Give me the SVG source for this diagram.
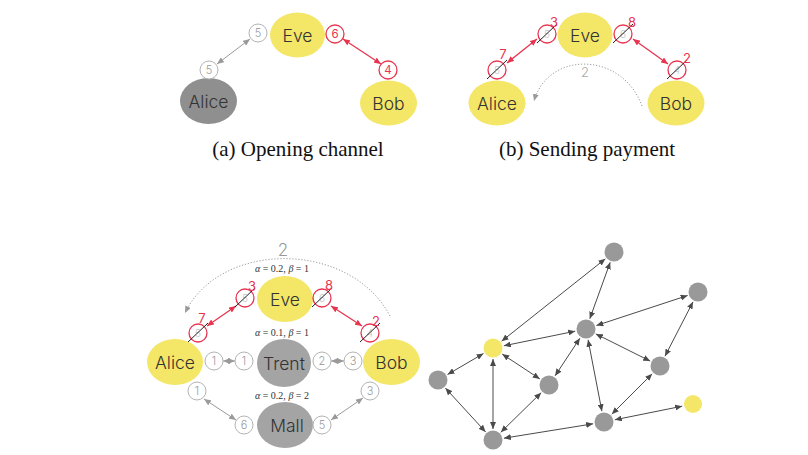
<svg xmlns="http://www.w3.org/2000/svg" width="808" height="455" viewBox="0 0 808 455">
<defs>
<style>
.yel{fill:#f4e667;}
.gry{fill:#a4a4a4;}
.dgry{fill:#8f8f8f;}
.gnode{fill:#999999;}
.lbl{font-family:Inter,"Noto Sans",sans-serif;font-weight:300;font-size:17.5px;fill:#333;text-anchor:middle;dominant-baseline:central;}
.sc{fill:#fff;stroke:#b3b3b3;stroke-width:1;}
.sct{font-family:Inter,"Noto Sans",sans-serif;font-weight:300;font-size:11px;fill:#999;text-anchor:middle;dominant-baseline:central;}
.rc{fill:#fff;stroke:#e8344f;stroke-width:1.3;}
.rct{font-family:Inter,"Noto Sans",sans-serif;font-size:11.5px;fill:#e8344f;text-anchor:middle;dominant-baseline:central;}
.fade{font-family:Inter,"Noto Sans",sans-serif;font-weight:300;font-size:10px;fill:#c4c4c4;text-anchor:middle;dominant-baseline:central;}
.rl{font-family:Inter,"Noto Sans",sans-serif;font-size:13px;fill:#e8344f;text-anchor:middle;}
.slash{stroke:#222;stroke-width:1;}
.ga{stroke:#9a9a9a;stroke-width:1;fill:none;marker-start:url(#mg);marker-end:url(#mg);}
.ra{stroke:#e8344f;stroke-width:1.3;fill:none;marker-start:url(#mr);marker-end:url(#mr);}
.ka{stroke:#4a4a4a;stroke-width:1;fill:none;marker-start:url(#mk);marker-end:url(#mk);}
.dot{stroke:#9a9a9a;stroke-width:1;fill:none;stroke-dasharray:1.2 1.8;marker-end:url(#md);}
.cap{font-family:"Liberation Serif",serif;font-size:21px;fill:#111;text-anchor:middle;}
.ab{font-family:"Liberation Serif",serif;font-size:10px;fill:#333;text-anchor:middle;}
.big2{font-family:Inter,"Noto Sans",sans-serif;font-weight:300;font-size:17px;fill:#999;text-anchor:middle;}
</style>
<marker id="mg" markerUnits="userSpaceOnUse" markerWidth="7" markerHeight="6" refX="7" refY="3" orient="auto-start-reverse"><path d="M0,0 L7,3 L0,6 z" fill="#9a9a9a"/></marker>
<marker id="mr" markerUnits="userSpaceOnUse" markerWidth="7" markerHeight="6" refX="7" refY="3" orient="auto-start-reverse"><path d="M0,0 L7,3 L0,6 z" fill="#e8344f"/></marker>
<marker id="mk" markerUnits="userSpaceOnUse" markerWidth="7" markerHeight="6" refX="7" refY="3" orient="auto-start-reverse"><path d="M0,0 L7,3 L0,6 z" fill="#4a4a4a"/></marker>
<marker id="md" markerUnits="userSpaceOnUse" markerWidth="7" markerHeight="6" refX="7" refY="3" orient="auto"><path d="M0,0 L7,3 L0,6 z" fill="#9a9a9a"/></marker>
</defs>
<rect width="808" height="455" fill="#fff"/>

<g id="connectors">
<line class="ga" x1="250" y1="39" x2="217" y2="64"/>
<line class="ra" x1="343" y1="39" x2="381" y2="64"/>
<line class="ra" x1="537" y1="39" x2="507" y2="63"/>
<line class="ra" x1="633" y1="39" x2="668" y2="64"/>
<path class="dot" d="M642,106 C622,51 548,51 534,101"/>
<path class="dot" d="M390,316 C350,240 220,240 185,313"/>
<line class="ra" x1="207" y1="326" x2="236" y2="306"/>
<line class="ra" x1="331" y1="306" x2="362" y2="326"/>
<line class="ga" x1="223" y1="361" x2="235" y2="361"/>
<line class="ga" x1="331" y1="361" x2="344" y2="361"/>
<line class="ga" x1="204" y1="399" x2="236" y2="420"/>
<line class="ga" x1="331" y1="420" x2="363" y2="398"/>
<line class="ka" x1="605.4" y1="258.8" x2="501.6" y2="341.2"/>
<line class="ka" x1="610.2" y1="262.3" x2="589.8" y2="318.7"/>
<line class="ka" x1="687.6" y1="295.5" x2="596.4" y2="325.5"/>
<line class="ka" x1="693" y1="301.8" x2="665" y2="356.2"/>
<line class="ka" x1="575.2" y1="331.2" x2="503.8" y2="345.8"/>
<line class="ka" x1="579.9" y1="338.2" x2="555.1" y2="375.8"/>
<line class="ka" x1="595.8" y1="333.9" x2="650.2" y2="361.1"/>
<line class="ka" x1="588.1" y1="339.8" x2="601.9" y2="411.2"/>
<line class="ka" x1="483.5" y1="353.5" x2="447.5" y2="374.5"/>
<line class="ka" x1="502.2" y1="354.1" x2="539.8" y2="378.9"/>
<line class="ka" x1="493" y1="359" x2="493" y2="429"/>
<line class="ka" x1="445.4" y1="388.1" x2="485.6" y2="431.9"/>
<line class="ka" x1="541.2" y1="392.7" x2="500.8" y2="432.3"/>
<line class="ka" x1="652.2" y1="373.8" x2="611.8" y2="414.2"/>
<line class="ka" x1="614.8" y1="419.8" x2="682.2" y2="406.2"/>
<line class="ka" x1="593.1" y1="423.8" x2="503.9" y2="438.2"/>
</g>

<g id="a-eve"><ellipse class="yel" cx="297.5" cy="35" rx="27.5" ry="22.5"/><text class="lbl" x="297.5" y="35">Eve</text></g>
<g id="a-alice"><ellipse class="dgry" cx="208.5" cy="101" rx="28.5" ry="23"/><text class="lbl" x="208.5" y="101">Alice</text></g>
<g id="a-bob"><ellipse class="yel" cx="388.5" cy="103" rx="28.5" ry="22.5"/><text class="lbl" x="388.5" y="103">Bob</text></g>
<g id="a-c1"><circle class="sc" cx="258" cy="33" r="9"/><text class="sct" x="258" y="33">5</text></g>
<g id="a-c2"><circle class="sc" cx="209" cy="70" r="9"/><text class="sct" x="209" y="70">5</text></g>
<g id="a-c3"><circle class="rc" cx="335" cy="34" r="9"/><text class="rct" x="335" y="34">6</text></g>
<g id="a-c4"><circle class="rc" cx="388" cy="70" r="9"/><text class="rct" x="388" y="70">4</text></g>
<text class="cap" x="298" y="156">(a) Opening channel</text>

<g id="b-eve"><ellipse class="yel" cx="585" cy="35" rx="27.5" ry="22.5"/><text class="lbl" x="585" y="35">Eve</text></g>
<g id="b-alice"><ellipse class="yel" cx="497" cy="103" rx="28.5" ry="22.5"/><text class="lbl" x="497" y="103">Alice</text></g>
<g id="b-bob"><ellipse class="yel" cx="676" cy="103" rx="28.5" ry="22.5"/><text class="lbl" x="676" y="103">Bob</text></g>
<g id="b-c1"><circle class="rc" cx="547" cy="34" r="9"/><text class="fade" x="547" y="34">5</text><line class="slash" x1="537" y1="43" x2="557" y2="24"/><text class="rl" x="554" y="27">3</text></g>
<g id="b-c2"><circle class="rc" cx="497" cy="70" r="9"/><text class="fade" x="497" y="70">5</text><line class="slash" x1="487" y1="79" x2="507" y2="60"/><text class="rl" x="503" y="59">7</text></g>
<g id="b-c3"><circle class="rc" cx="623" cy="34" r="9"/><text class="fade" x="623" y="34">6</text><line class="slash" x1="613" y1="43" x2="633" y2="24"/><text class="rl" x="632" y="27">8</text></g>
<g id="b-c4"><circle class="rc" cx="677" cy="70" r="9"/><text class="fade" x="677" y="70">4</text><line class="slash" x1="667" y1="79" x2="687" y2="60"/><text class="rl" x="687" y="63">2</text></g>
<text x="585" y="77" style="font-family:Inter,'Noto Sans',sans-serif;font-weight:300;font-size:13px;fill:#aaa;text-anchor:middle">2</text>
<text class="cap" x="587" y="156">(b) Sending payment</text>

<text class="big2" x="283" y="256">2</text>
<text class="ab" x="282" y="272"><tspan font-style="italic">α</tspan> = 0.2, <tspan font-style="italic">β</tspan> = 1</text>
<text class="ab" x="282" y="336"><tspan font-style="italic">α</tspan> = 0.1, <tspan font-style="italic">β</tspan> = 1</text>
<text class="ab" x="282" y="399"><tspan font-style="italic">α</tspan> = 0.2, <tspan font-style="italic">β</tspan> = 2</text>
<g id="c-eve"><ellipse class="yel" cx="285" cy="299" rx="28" ry="23"/><text class="lbl" x="285" y="299">Eve</text></g>
<g id="c-alice"><ellipse class="yel" cx="175" cy="362" rx="28" ry="23"/><text class="lbl" x="175" y="362">Alice</text></g>
<g id="c-trent"><ellipse class="gry" cx="284" cy="363" rx="27" ry="24"/><text class="lbl" x="284" y="363">Trent</text></g>
<g id="c-bob"><ellipse class="yel" cx="391.5" cy="362" rx="28.5" ry="23"/><text class="lbl" x="391.5" y="362">Bob</text></g>
<g id="c-mall"><ellipse class="gry" cx="285" cy="425" rx="28" ry="23"/><text class="lbl" x="287" y="425">Mall</text></g>
<g id="c-r1"><circle class="rc" cx="245" cy="298" r="9"/><text class="fade" x="245" y="298">5</text><line class="slash" x1="235" y1="307" x2="255" y2="288"/><text class="rl" x="252" y="291">3</text></g>
<g id="c-r2"><circle class="rc" cx="322" cy="298" r="9"/><text class="fade" x="322" y="298">6</text><line class="slash" x1="312" y1="307" x2="332" y2="288"/><text class="rl" x="329" y="290">8</text></g>
<g id="c-r3"><circle class="rc" cx="198" cy="333" r="9"/><text class="fade" x="198" y="333">5</text><line class="slash" x1="188" y1="342" x2="208" y2="323"/><text class="rl" x="202" y="323">7</text></g>
<g id="c-r4"><circle class="rc" cx="370" cy="333" r="9"/><text class="fade" x="370" y="333">4</text><line class="slash" x1="360" y1="342" x2="380" y2="323"/><text class="rl" x="376" y="326">2</text></g>
<g id="c-g1"><circle class="sc" cx="214" cy="361" r="9"/><text class="sct" x="214" y="361">1</text></g>
<g id="c-g2"><circle class="sc" cx="244" cy="361" r="9"/><text class="sct" x="244" y="361">1</text></g>
<g id="c-g3"><circle class="sc" cx="322" cy="361" r="9"/><text class="sct" x="322" y="361">2</text></g>
<g id="c-g4"><circle class="sc" cx="353" cy="361" r="9"/><text class="sct" x="353" y="361">3</text></g>
<g id="c-g5"><circle class="sc" cx="197" cy="391" r="9"/><text class="sct" x="197" y="391">1</text></g>
<g id="c-g6"><circle class="sc" cx="370" cy="391" r="9"/><text class="sct" x="370" y="391">3</text></g>
<g id="c-g7"><circle class="sc" cx="244" cy="425" r="9"/><text class="sct" x="244" y="425">6</text></g>
<g id="c-g8"><circle class="sc" cx="322" cy="425" r="9"/><text class="sct" x="322" y="425">5</text></g>

<g id="n1"><circle class="gnode" cx="614" cy="252" r="9.5"/></g>
<g id="n2"><circle class="gnode" cx="698" cy="292" r="9.5"/></g>
<g id="n3"><circle class="gnode" cx="586" cy="329" r="9.5"/></g>
<g id="n4"><circle class="yel" cx="493" cy="348" r="9.5"/></g>
<g id="n5"><circle class="gnode" cx="438" cy="380" r="9.5"/></g>
<g id="n6"><circle class="gnode" cx="549" cy="385" r="9.5"/></g>
<g id="n7"><circle class="gnode" cx="660" cy="366" r="9.5"/></g>
<g id="n8"><circle class="yel" cx="693" cy="404" r="9"/></g>
<g id="n9"><circle class="gnode" cx="604" cy="422" r="9.5"/></g>
<g id="n10"><circle class="gnode" cx="493" cy="440" r="9.5"/></g>
</svg>
